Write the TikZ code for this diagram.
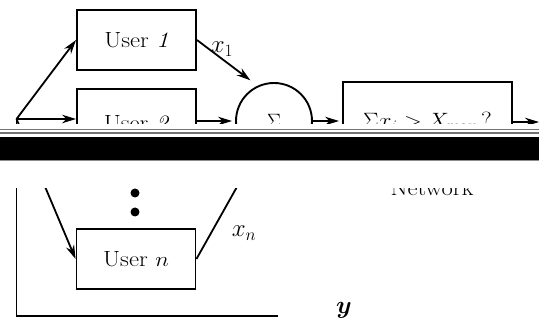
\documentclass[tikz,border=0pt]{standalone}
\usepackage{bm}
\usetikzlibrary{arrows.meta}
\newcommand{\wtx}[1]{\scalebox{1.12}[1]{#1}}
\begin{document}
\begin{tikzpicture}[x=1pt,y=-1pt,
  txt/.style={font=\fontsize{22}{26}\selectfont},
  lbl/.style={font=\fontsize{25}{28}\selectfont},
  ubox/.style={draw, line width=1.9pt, minimum width=119pt, minimum height=60pt, inner sep=0pt, txt},
  arr/.style={-{Stealth[length=14pt,width=8.5pt]}, line width=1.8pt},
  ln/.style={line width=1.8pt},
  dotn/.style={circle, fill=black, inner sep=0pt, minimum size=9pt}]
\useasboundingbox (0,0) rectangle (539,320);
% nodes
\node[ubox] (u1) at (136.5,40) {\wtx{User \textit{1}}};
\node[ubox, minimum height=68pt] (u2) at (136.5,123) {\wtx{User \textit{2}}};
\node[ubox] (un) at (136,259) {\wtx{User $n$}};
\node[draw, circle, line width=1.9pt, minimum size=76pt, inner sep=0pt, txt] (sum) at (274,121) {\raisebox{-4pt}{$\Sigma$}};
\node[draw, line width=1.9pt, minimum width=169pt, minimum height=78pt, inner sep=0pt, txt] (chk) at (427.5,121) {\raisebox{-2pt}{\wtx{$\Sigma x_i > X_{\max}$\,?}}};
\node[txt, anchor=base] (net) at (432,196) {\wtx{Network}};
\node[dotn] (d1) at (135,193) {};
\node[dotn] (d2) at (135,212) {};
\coordinate (j) at (16.5,119);
\coordinate (bl) at (16.5,316);
\coordinate (br) at (278,316);
\coordinate (netin) at (539,122);
% connectors
\draw[arr] (j) -- (u1.west);
\draw[arr] (j) -- (u2.west |- j);
\draw[arr] (j) -- (un.west);
\draw[arr, shorten >=9pt] (u1.east) -- (sum.115);
\node[lbl] (lx1) at (222,49) {$x_1$};
\draw[arr, shorten >=3pt] (u2.east |- sum.west) -- (sum.west);
\draw[arr, shorten >=3pt] (sum.east) -- (chk.west);
\draw[arr] (chk.east |- netin) -- (netin);
\draw[arr] (un.east) -- (sum);
\node[lbl] (lxn) at (244,233) {$x_n$};
\draw[ln] (j) -- (bl) -- (br);
\node[lbl, anchor=base] (ly) at (344,314) {$\bm{y}$};
% scan artefact band
\fill[white] (0,124.5) rectangle (539,188);
\fill[black!55] (0,129) rectangle (539,130.5);
\fill[black!55] (0,132.5) rectangle (539,134.5);
\fill[black] (0,137.5) rectangle (539,160);
\fill[black!45] (0,160) rectangle (539,161.5);
\end{tikzpicture}
\end{document}
